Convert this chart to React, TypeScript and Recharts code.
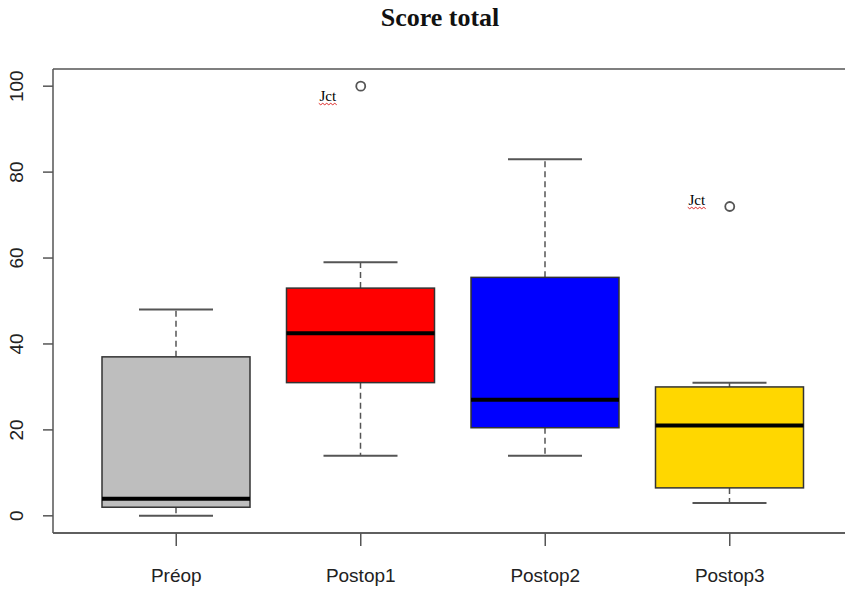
import React from 'react';
import { ComposedChart, Bar, Scatter, XAxis, YAxis, ReferenceLine } from 'recharts';

const categories = ['Préop', 'Postop1', 'Postop2', 'Postop3'];
const whiskerLow = [0, 14, 14, 3];
const q1 = [2, 31, 20.5, 6.5];
const median = [4, 42.5, 27, 21];
const q3 = [37, 53, 55.5, 30];
const whiskerHigh = [48, 59, 83, 31];
const fills = ['#BEBEBE', '#FF0000', '#0000FF', '#FFD700'];

const outlierCats = ['Postop1', 'Postop3'];
const outlierValues = [100, 72];

const noteCats = ['Postop1', 'Postop3'];
const noteValues = [96.6, 72.4];
const noteTexts = ['Jct', 'Jct'];

const yTicks = [0, 20, 40, 60, 80, 100];
const yDomain = [-4, 104];

const data = categories.map((name, i) => ({
  name,
  range: [whiskerLow[i], whiskerHigh[i]],
  lo: whiskerLow[i],
  q1: q1[i],
  med: median[i],
  q3: q3[i],
  hi: whiskerHigh[i],
  fill: fills[i],
}));

const outliers = outlierCats.map((name, i) => ({ name, v: outlierValues[i] }));
const notes = noteCats.map((name, i) => ({ name, v: noteValues[i], text: noteTexts[i] }));

const BoxShape = (props: any) => {
  const { x, y, width, height, payload } = props;
  const top = Math.min(y, y + height);
  const h = Math.abs(height);
  const { lo, hi } = payload;
  const py = (v: number) => top + (h * (hi - v)) / (hi - lo);
  const cx = x + width / 2;
  const capHalf = width / 4;
  const gray = '#555';
  return (
    <g>
      <line x1={cx} x2={cx} y1={py(payload.q3)} y2={py(hi)} stroke={gray} strokeWidth={1.5} strokeDasharray="6 4" />
      <line x1={cx} x2={cx} y1={py(payload.q1)} y2={py(lo)} stroke={gray} strokeWidth={1.5} strokeDasharray="6 4" />
      <line x1={cx - capHalf} x2={cx + capHalf} y1={py(hi)} y2={py(hi)} stroke={gray} strokeWidth={2} />
      <line x1={cx - capHalf} x2={cx + capHalf} y1={py(lo)} y2={py(lo)} stroke={gray} strokeWidth={2} />
      <rect x={x} y={py(payload.q3)} width={width} height={py(payload.q1) - py(payload.q3)} fill={payload.fill} stroke="#333" strokeWidth={1.5} />
      <line x1={x} x2={x + width} y1={py(payload.med)} y2={py(payload.med)} stroke="#000" strokeWidth={4} />
    </g>
  );
};

const OutlierShape = (props: any) => {
  const { cx, cy } = props;
  return <circle cx={cx} cy={cy} r={4.5} fill="none" stroke="#555" strokeWidth={1.8} />;
};

const NoteShape = (props: any) => {
  const { cx, cy, payload } = props;
  const tx = cx - 33;
  const x0 = tx - 9;
  let d = `M ${x0} ${cy + 2.5}`;
  for (let k = 1; k <= 9; k++) {
    d += ` L ${x0 + k * 2} ${cy + 2.5 + (k % 2 === 1 ? 1.5 : 0)}`;
  }
  return (
    <g>
      <text x={tx} y={cy} textAnchor="middle" fontFamily="'Liberation Serif', serif" fontSize={15} fill="#000">
        {payload.text}
      </text>
      <path d={d} fill="none" stroke="#e03030" strokeWidth={1} />
    </g>
  );
};

const YTick = (props: any) => {
  const { x, y, payload } = props;
  const bx = x - 19.5;
  return (
    <text x={bx} y={y} transform={`rotate(-90, ${bx}, ${y})`} textAnchor="middle" fontFamily="'Liberation Sans', Arial, sans-serif" fontSize={19} fill="#222">
      {payload.value}
    </text>
  );
};

const XTick = (props: any) => {
  const { x, y, payload } = props;
  return (
    <text x={x} y={y + 36} textAnchor="middle" fontFamily="'Liberation Sans', Arial, sans-serif" fontSize={19} fill="#222">
      {payload.value}
    </text>
  );
};

export default function App() {
  return (
    <div style={{ position: 'absolute', left: 0, top: 0, width: 845, height: 589, overflow: 'hidden', background: '#fff' }}>
      <div
        style={{
          position: 'absolute',
          left: 0,
          top: 5,
          width: 880,
          textAlign: 'center',
          fontFamily: "'Liberation Serif', serif",
          fontWeight: 'bold',
          fontSize: 26,
          lineHeight: '26px',
          color: '#111',
        }}
      >
        Score total
      </div>
      <ComposedChart width={870} height={589} data={data} margin={{ top: 69, right: 18, bottom: 0, left: 0 }}>
        <XAxis
          dataKey="name"
          type="category"
          allowDuplicatedCategory={false}
          height={56}
          padding={{ left: 31, right: 30 }}
          tickSize={13}
          tickMargin={0}
          axisLine={{ stroke: '#555', strokeWidth: 1.5 }}
          tickLine={{ stroke: '#555', strokeWidth: 1.5 }}
          tick={<XTick />}
          interval={0}
        />
        <YAxis
          type="number"
          domain={yDomain}
          ticks={yTicks}
          allowDataOverflow
          width={53}
          tickSize={10}
          tickMargin={0}
          axisLine={{ stroke: '#555', strokeWidth: 1.5 }}
          tickLine={{ stroke: '#555', strokeWidth: 1.5 }}
          tick={<YTick />}
        />
        <ReferenceLine y={yDomain[1]} stroke="#555" strokeWidth={1.5} ifOverflow="extendDomain" />
        <ReferenceLine y={yDomain[0]} stroke="#555" strokeWidth={1.5} ifOverflow="extendDomain" />
        <Bar dataKey="range" barSize={148} shape={<BoxShape />} isAnimationActive={false} />
        <Scatter data={outliers} dataKey="v" shape={<OutlierShape />} isAnimationActive={false} />
        <Scatter data={notes} dataKey="v" shape={<NoteShape />} isAnimationActive={false} />
      </ComposedChart>
    </div>
  );
}
